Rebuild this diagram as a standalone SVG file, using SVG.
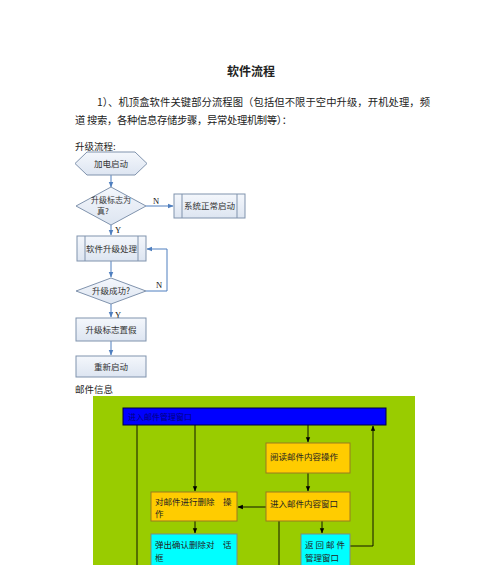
<svg xmlns="http://www.w3.org/2000/svg" width="500" height="565" viewBox="0 0 500 565">
<defs>
<linearGradient id="g" x1="0" y1="0" x2="0" y2="1"><stop offset="0" stop-color="#f4f7fc"/><stop offset="1" stop-color="#dde5f1"/></linearGradient>
<marker id="ab" viewBox="0 0 10 10" refX="9" refY="5" markerWidth="6" markerHeight="6" orient="auto"><path d="M0,1 L10,5 L0,9 z" fill="#4f7fbf"/></marker>
<marker id="ak" viewBox="0 0 10 10" refX="9" refY="5" markerWidth="6" markerHeight="6" orient="auto"><path d="M0,1 L10,5 L0,9 z" fill="#000"/></marker>
<style>
text{font-family:"Noto Sans CJK SC","Liberation Serif",serif;fill:#222}
.p{font-size:10.3px}
.n{font-size:8.5px;fill:#333}
.m{font-size:8.5px;fill:#222}
.lbl{font-size:8.5px;font-family:"Liberation Serif",serif;fill:#111}
.fb{fill:url(#g);stroke:#8093ad;stroke-width:1}
.il{stroke:#8093ad;stroke-width:1}
.cb{fill:none;stroke:#4f7fbf;stroke-width:1;marker-end:url(#ab)}
.ck{fill:none;stroke:#000;stroke-width:0.9}
.ka{marker-end:url(#ak)}
.or{fill:#ffcc00;stroke:#9a7a20;stroke-width:1}
.cy{fill:#00ffff;stroke:#7a8a8a;stroke-width:1}
</style>
</defs>
<rect width="500" height="565" fill="#fff"/>
<text x="251" y="76" text-anchor="middle" style="font-size:12px;font-weight:bold">软件流程</text>
<text class="p" x="97" y="106" textLength="333" lengthAdjust="spacing">1）、机顶盒软件关键部分流程图（包括但不限于空中升级，开机处理，频</text>
<text class="p" x="75" y="124" textLength="217" lengthAdjust="spacing">道 搜索，各种信息存储步骤，异常处理机制等）：</text>
<text class="p" x="75" y="150" style="font-size:9.5px">升级流程:</text>

<g id="connectors">
<line class="cb" x1="111" y1="175" x2="111" y2="187"/>
<line class="cb" x1="146" y1="206" x2="173" y2="206"/>
<line class="cb" x1="111" y1="225" x2="111" y2="235"/>
<line class="cb" x1="111" y1="261" x2="111" y2="277"/>
<polyline class="cb" points="146,291 167,291 167,249 147,249"/>
<line class="cb" x1="111" y1="304" x2="111" y2="317"/>
<line class="cb" x1="111" y1="341" x2="111" y2="355"/>
</g>
<text class="lbl" x="153" y="204">N</text>
<text class="lbl" x="115" y="233">Y</text>
<text class="lbl" x="156" y="288">N</text>
<text class="lbl" x="115" y="318">Y</text>

<g id="n-start"><polygon class="fb" points="75,163.5 87,152 135,152 147,163.5 135,175 87,175"/><text class="n" x="111" y="166.5" text-anchor="middle">加电启动</text></g>
<g id="n-flag"><polygon class="fb" points="111,187 146,206 111,225 76,206"/><text class="n" x="111" y="203" text-anchor="middle" style="font-size:8px">升级标志为</text><text class="n" x="103" y="214" text-anchor="middle" style="font-size:8px">真?</text></g>
<g id="n-normal"><rect class="fb" x="174" y="194" width="71" height="24"/><line class="il" x1="182" y1="194" x2="182" y2="218"/><line class="il" x1="237" y1="194" x2="237" y2="218"/><text class="n" x="209.5" y="209" text-anchor="middle">系统正常启动</text></g>
<g id="n-upgrade"><rect class="fb" x="77" y="236" width="69" height="25"/><line class="il" x1="85" y1="236" x2="85" y2="261"/><line class="il" x1="138" y1="236" x2="138" y2="261"/><text class="n" x="111.5" y="251.5" text-anchor="middle">软件升级处理</text></g>
<g id="n-success"><polygon class="fb" points="111,278 146,291 111,304 76,291"/><text class="n" x="111" y="294" text-anchor="middle">升级成功?</text></g>
<g id="n-clear"><rect class="fb" x="76" y="318" width="70" height="23"/><text class="n" x="111" y="332.5" text-anchor="middle">升级标志置假</text></g>
<g id="n-restart"><rect class="fb" x="76" y="356" width="70" height="21"/><text class="n" x="111" y="369.5" text-anchor="middle">重新启动</text></g>

<text class="p" x="75" y="393" style="font-size:9.5px">邮件信息</text>
<rect x="93" y="396" width="322" height="169" fill="#99cc00"/>

<g id="mail-connectors">
<line class="ck" x1="137" y1="425" x2="137" y2="565"/>
<line class="ck ka" x1="195" y1="425" x2="195" y2="491"/>
<line class="ck ka" x1="308" y1="425" x2="308" y2="442"/>
<line class="ck ka" x1="308" y1="473" x2="308" y2="491"/>
<line class="ck ka" x1="266" y1="507" x2="238" y2="507"/>
<line class="ck ka" x1="195" y1="521" x2="195" y2="533"/>
<line class="ck" x1="279" y1="521" x2="279" y2="565"/>
<line class="ck ka" x1="322" y1="521" x2="322" y2="533"/>
<polyline class="ck ka" points="350,546 373,546 373,426"/>
</g>

<g id="m-bar"><rect x="123" y="408" width="263" height="17" fill="#0000ff" stroke="#000040" stroke-width="1"/><text x="128" y="420" style="font-size:8px;fill:#000080">进入邮件管理窗口</text></g>
<g id="m-read"><rect class="or" x="266" y="443" width="84" height="30"/><text class="m" x="270" y="460">阅读邮件内容操作</text></g>
<g id="m-enter"><rect class="or" x="266" y="492" width="84" height="29"/><text class="m" x="270" y="507">进入邮件内容窗口</text></g>
<g id="m-delete"><rect class="or" x="151" y="492" width="86" height="29"/><text class="m" x="155" y="505">对邮件进行删除　操</text><text class="m" x="155" y="517">作</text></g>
<g id="m-confirm"><rect class="cy" x="151" y="534" width="86" height="35"/><text class="m" x="155" y="548">弹出确认删除对　话</text><text class="m" x="155" y="561">框</text></g>
<g id="m-back"><rect class="cy" x="301" y="534" width="49" height="35"/><text class="m" x="305" y="548" textLength="40" lengthAdjust="spacing">返回邮件</text><text class="m" x="305" y="561">管理窗口</text></g>
</svg>
